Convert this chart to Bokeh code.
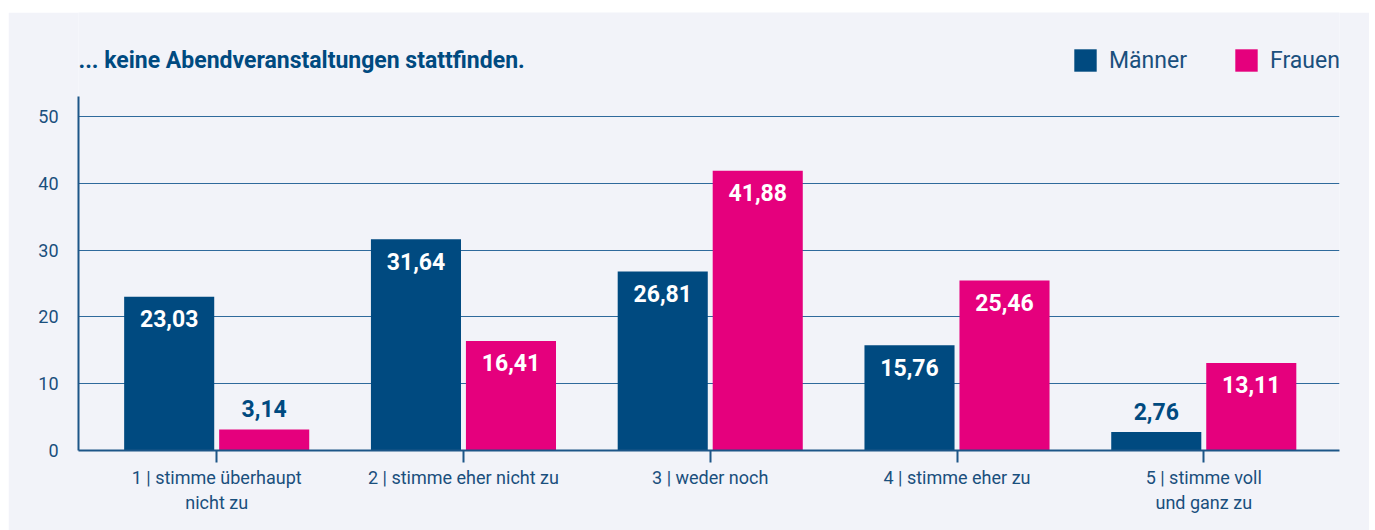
from bokeh.plotting import figure
from bokeh.models import ColumnDataSource, FixedTicker, Legend, LegendItem, Range1d, Spacer, Label
from bokeh.layouts import column, row
from bokeh.transform import dodge
from bokeh.core.properties import value
from bokeh.embed import file_html
from bokeh.resources import INLINE

# ---- data ----
categories = ["1 | stimme überhaupt\nnicht zu", "2 | stimme eher nicht zu",
              "3 | weder noch", "4 | stimme eher zu", "5 | stimme voll\nund ganz zu"]
positions = [1, 2, 3, 4, 5]
maenner = [23.03, 31.64, 26.81, 15.76, 2.76]
frauen = [3.14, 16.41, 41.88, 25.46, 13.11]
series = ["Männer", "Frauen"]
y_ticks = [0, 10, 20, 30, 40, 50]
title_text = "... keine Abendveranstaltungen stattfinden."

# ---- style ----
BG = "#f2f3f9"
BLUE = "#004a80"
PINK = "#e5007d"
TXT = "#1a4f7d"
AXIS = "#1d5688"
GRID = "#2f6a9c"
FONT = "Roboto"
W_TOTAL = 1361
H_TOTAL = 518

def fmt(v):
    return f"{v:.2f}".replace(".", ",")

src = ColumnDataSource(dict(x=positions, m=maenner, f=frauen))

p = figure(width=W_TOTAL, height=H_TOTAL, x_range=Range1d(0.44, 5.55), y_range=Range1d(0, 65.57),
           output_backend="svg", toolbar_location=None,
           min_border_left=70, min_border_right=30, min_border_top=0, min_border_bottom=80,
           background_fill_color=BG, border_fill_color=BG, outline_line_color=None)

p.xgrid.grid_line_color = None
p.ygrid.grid_line_color = GRID
p.ygrid.grid_line_width = 1
p.ygrid.ticker = FixedTicker(ticks=y_ticks)

p.yaxis.ticker = FixedTicker(ticks=y_ticks)
p.yaxis.bounds = (0, 53)
p.yaxis.major_tick_out = 0
p.yaxis.major_tick_in = 0
p.yaxis.minor_tick_line_color = None
p.yaxis.axis_line_color = AXIS
p.yaxis.axis_line_width = 2
p.yaxis.major_label_standoff = 20
p.yaxis.major_label_text_font = FONT
p.yaxis.major_label_text_font_size = "18px"
p.yaxis.major_label_text_color = TXT

p.xaxis.ticker = FixedTicker(ticks=positions)
p.xaxis.major_label_overrides = {pos: cat for pos, cat in zip(positions, categories)}
p.xaxis.major_tick_out = 12
p.xaxis.major_tick_in = 0
p.xaxis.major_tick_line_color = AXIS
p.xaxis.major_tick_line_width = 2
p.xaxis.minor_tick_line_color = None
p.xaxis.axis_line_color = AXIS
p.xaxis.axis_line_width = 2
p.xaxis.major_label_standoff = 4
p.xaxis.major_label_text_font = FONT
p.xaxis.major_label_text_font_size = "18px"
p.xaxis.major_label_text_color = TXT

W = 0.365
OFF = 0.1925
r1 = p.vbar(x=dodge("x", -OFF, range=p.x_range), top="m", width=W, bottom=0,
            source=src, fill_color=BLUE, line_color=None)
r2 = p.vbar(x=dodge("x", OFF, range=p.x_range), top="f", width=W, bottom=0,
            source=src, fill_color=PINK, line_color=None)

# value labels: inside bar (white) for tall bars, above bar (blue) for short bars
THR = 8
for vals, off in ((maenner, -OFF), (frauen, OFF)):
    inside = ColumnDataSource(dict(x=[pp for pp, v in zip(positions, vals) if v >= THR],
                                   y=[v for v in vals if v >= THR],
                                   t=[fmt(v) for v in vals if v >= THR]))
    above = ColumnDataSource(dict(x=[pp for pp, v in zip(positions, vals) if v < THR],
                                  y=[v for v in vals if v < THR],
                                  t=[fmt(v) for v in vals if v < THR]))
    p.text(x=dodge("x", off, range=p.x_range), y="y", text="t", source=inside,
           text_align="center", text_baseline="middle", y_offset=22,
           text_font=value(FONT), text_font_size="23px", text_font_style="bold",
           text_color="white")
    p.text(x=dodge("x", off, range=p.x_range), y="y", text="t", source=above,
           text_align="center", text_baseline="middle", y_offset=-21,
           text_font=value(FONT), text_font_size="23px", text_font_style="bold",
           text_color=BLUE)

# title (inside the frame, above the plotting area)
p.add_layout(Label(x=0, y=390, x_units="screen", y_units="screen", text=title_text,
                   text_font=FONT, text_font_size="23px", text_font_style="bold",
                   text_color=BLUE, text_baseline="middle", text_align="left"))

legend = Legend(items=[LegendItem(label=series[0], renderers=[r1]),
                       LegendItem(label=series[1], renderers=[r2])],
                orientation="horizontal", location=(993, 376),
                padding=0, margin=0, border_line_color=None, background_fill_alpha=0,
                glyph_width=28, glyph_height=28, label_standoff=10, spacing=45,
                label_text_font=FONT, label_text_font_size="23px", label_text_color=TXT)
p.add_layout(legend)

layout = column(Spacer(height=12, width=W_TOTAL + 8),
                row(Spacer(width=8, height=H_TOTAL), p, spacing=0),
                spacing=0)
open("out.html", "w").write(file_html(layout, INLINE))
